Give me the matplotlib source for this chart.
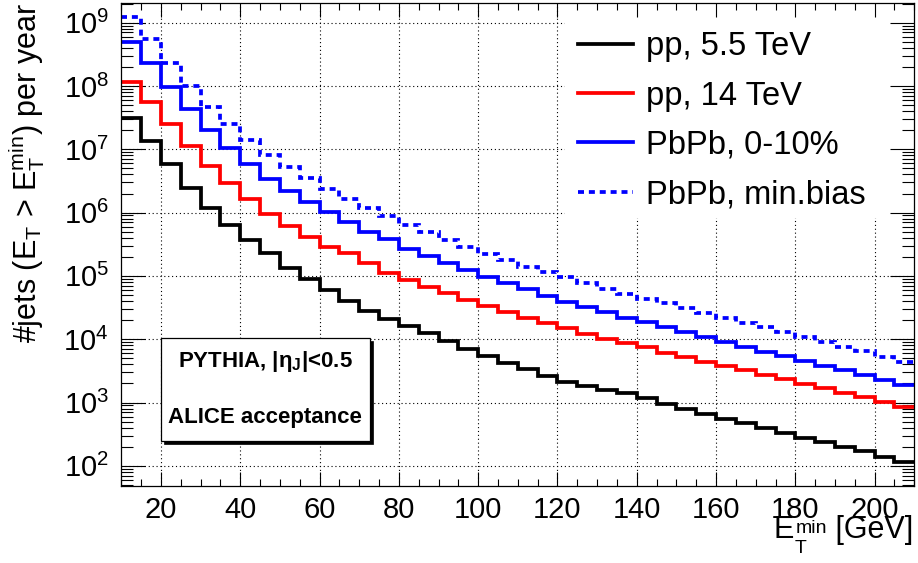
import numpy as np
import matplotlib
matplotlib.use('Agg')
import matplotlib.pyplot as plt
from matplotlib.patches import Rectangle
from matplotlib.lines import Line2D
from matplotlib.ticker import MultipleLocator, FixedLocator, NullFormatter, LogFormatterMathtext

# ---------------- data ----------------
bin_edges = np.arange(10, 215, 5)   # E_T^min bins [GeV]

pp_5p5 = [3.09e7, 1.35e7, 5.8e6, 2.47e6, 1.17e6, 6.4e5, 3.69e5, 2.33e5, 1.32e5, 8.8e4,
          5.98e4, 4.06e4, 2.82e4, 2.1e4, 1.63e4, 1.24e4, 9.46e3, 7.08e3, 5.43e3, 4.26e3,
          3.38e3, 2.62e3, 2.09e3, 1.84e3, 1.58e3, 1.40e3, 1.16e3, 946, 781, 651,
          549, 469, 391, 333, 278, 235, 200, 171, 139, 115]

pp_14 = [1.17e8, 5.65e7, 2.48e7, 1.14e7, 5.51e6, 2.94e6, 1.62e6, 9.4e5, 6.21e5, 4.12e5,
         2.83e5, 2.28e5, 1.58e5, 1.13e5, 8.6e4, 6.75e4, 5.31e4, 4.16e4, 3.34e4, 2.66e4,
         2.19e4, 1.78e4, 1.49e4, 1.21e4, 1.01e4, 8.6e3, 7.4e3, 6.12e3, 5.18e3, 4.41e3,
         3.77e3, 3.26e3, 2.72e3, 2.33e3, 1.96e3, 1.69e3, 1.43e3, 1.22e3, 1.03e3, 859]

pbpb_central = [5.01e8, 2.28e8, 9.5e7, 4.33e7, 2.02e7, 1.06e7, 5.86e6, 3.40e6, 2.19e6, 1.46e6,
                1.01e6, 7.18e5, 4.99e5, 3.79e5, 2.69e5, 2.06e5, 1.58e5, 1.24e5, 9.7e4, 7.64e4,
                6.14e4, 4.87e4, 3.91e4, 3.26e4, 2.66e4, 2.19e4, 1.84e4, 1.54e4, 1.29e4, 1.07e4,
                8.93e3, 7.62e3, 6.35e3, 5.43e3, 4.53e3, 3.81e3, 3.26e3, 2.72e3, 2.26e3, 1.89e3]

pbpb_minbias = [1.22e9, 5.47e8, 2.28e8, 1.0e8, 4.66e7, 2.48e7, 1.39e7, 8.22e6, 5.31e6, 3.48e6,
                2.33e6, 1.64e6, 1.18e6, 8.7e5, 6.37e5, 4.88e5, 3.69e5, 2.83e5, 2.22e5, 1.78e5,
                1.40e5, 1.14e5, 9.5e4, 7.64e4, 6.14e4, 5.12e4, 4.36e4, 3.69e4, 3.08e4, 2.56e4,
                2.14e4, 1.78e4, 1.54e4, 1.31e4, 1.10e4, 9.13e3, 7.62e3, 6.52e3, 5.30e3, 4.41e3]

labels = ['pp, 5.5 TeV', 'pp, 14 TeV', 'PbPb, 0-10%', 'PbPb, min.bias']
colors = ['black', '#ff0000', '#0000ff', '#0000ff']
styles = ['-', '-', '-', (0, (1.6, 1.3))]
series = [pp_5p5, pp_14, pbpb_central, pbpb_minbias]

y_decades = [1e2, 1e3, 1e4, 1e5, 1e6, 1e7, 1e8, 1e9]

# ---------------- style ----------------
plt.rcParams['font.family'] = ['Liberation Sans', 'DejaVu Sans']
plt.rcParams['mathtext.fontset'] = 'custom'
plt.rcParams['mathtext.rm'] = 'Liberation Sans'
plt.rcParams['mathtext.it'] = 'Liberation Sans:italic'
plt.rcParams['mathtext.bf'] = 'Liberation Sans:bold'

W, H = 918, 563
fig = plt.figure(figsize=(W / 100, H / 100), dpi=100)
L, R, T, B = 121.3, 914.3, 3.3, 486.0
ax = fig.add_axes([L / W, 1 - B / H, (R - L) / W, (B - T) / H])

ax.set_xlim(10, 210)
ax.set_yscale('log')
ax.set_ylim(48, 2.02e9)

ax.xaxis.set_major_locator(MultipleLocator(20))
ax.xaxis.set_minor_locator(MultipleLocator(5))
ax.yaxis.set_major_locator(FixedLocator(y_decades))
ax.yaxis.set_major_formatter(LogFormatterMathtext())
minor_y = [m * d for d in [1e1] + y_decades for m in range(2, 10)]
ax.yaxis.set_minor_locator(FixedLocator(minor_y))
ax.yaxis.set_minor_formatter(NullFormatter())

ax.tick_params(axis='both', which='both', direction='in', top=True, right=True,
               width=0.8, colors='black')
ax.tick_params(axis='x', which='major', length=10.4, labelsize=21, pad=7)
ax.tick_params(axis='x', which='minor', length=5.2)
ax.tick_params(axis='y', which='major', length=17, labelsize=21, pad=9)
ax.tick_params(axis='y', which='minor', length=8.5)
for s in ax.spines.values():
    s.set_linewidth(0.9)

# grid (dotted) below the legend background
gstyle = dict(color='black', linewidth=0.8, linestyle=(0, (1, 2.5)), zorder=0.8)
for xv in np.arange(20, 210, 20):
    ax.axvline(xv, **gstyle)
for yv in y_decades:
    ax.axhline(yv, **gstyle)

# white legend background hiding the grid
ax.add_patch(Rectangle((0.5595, 0.555), 0.4405, 0.445, transform=ax.transAxes,
                       facecolor='white', edgecolor='none', zorder=1))

# histograms
for vals, c, ls in zip(series, colors, styles):
    sp = ax.stairs(vals, bin_edges, baseline=None, color=c, linestyle=ls,
                   linewidth=2.7, zorder=2)
    sp.set_joinstyle('miter')

# legend
handles = [Line2D([], [], color=c, linestyle=ls, linewidth=2.7) for c, ls in zip(colors, styles)]
ax.legend(handles, labels, loc='upper left', bbox_to_anchor=(0.5759, 0.942),
          frameon=False, borderpad=0, borderaxespad=0, fontsize=23.5,
          handlelength=1.69, handletextpad=0.4, labelspacing=0.56)

# PYTHIA box with shadow
bx0, bx1 = (160.7 - L) / (R - L), (370 - L) / (R - L)
by0, by1 = (B - 440.7) / (B - T), (B - 338.3) / (B - T)
dx, dy = 3 / (R - L), 3 / (B - T)
ax.add_patch(Rectangle((bx0 + dx, by0 - dy), bx1 - bx0, by1 - by0, transform=ax.transAxes,
                       facecolor='black', edgecolor='black', linewidth=0.5, zorder=3))
ax.add_patch(Rectangle((bx0, by0), bx1 - bx0, by1 - by0, transform=ax.transAxes,
                       facecolor='white', edgecolor='black', linewidth=0.9, zorder=3.1))
cx = (bx0 + bx1) / 2
ax.text(cx, (B - 362) / (B - T), r'PYTHIA, |$\mathbf{\eta}_{\mathbf{J}}$|<0.5', transform=ax.transAxes,
        ha='center', va='center', fontsize=16, fontweight='bold', zorder=3.2)
ax.text(cx, (B - 417.5) / (B - T), 'ALICE acceptance', transform=ax.transAxes,
        ha='center', va='center', fontsize=16, fontweight='bold', zorder=3.2)

# y axis title
fig.text(27 / W, 1 - 3 / H,
         r'#jets ($\mathrm{E}_\mathrm{T}$ > $\mathrm{E}_\mathrm{T}^\mathrm{min}$) per year',
         rotation=90, ha='center', va='top', fontsize=22)

# x axis title, composed so the superscript stays compact (ROOT-like)
rend = fig.canvas.get_renderer()
base_y = 538.0          # baseline in pixels from top
t_gev = fig.text(913 / W, 1 - base_y / H, ' [GeV]', ha='right', va='baseline', fontsize=22)
gev_x0 = t_gev.get_window_extent(rend).x0
t_min_probe = fig.text(0, 0, 'min', fontsize=14)
w_min = t_min_probe.get_window_extent(rend).width
t_min_probe.remove()
blk_x = gev_x0 - w_min
fig.text(blk_x / W, 1 - (base_y - 5) / H, 'min', ha='left', va='baseline', fontsize=14)
fig.text((blk_x - 1) / W, 1 - (base_y + 15) / H, 'T', ha='left', va='baseline', fontsize=14)
fig.text((blk_x - 1) / W, 1 - base_y / H, 'E', ha='right', va='baseline', fontsize=22)

fig.savefig('out.png', dpi=100)
